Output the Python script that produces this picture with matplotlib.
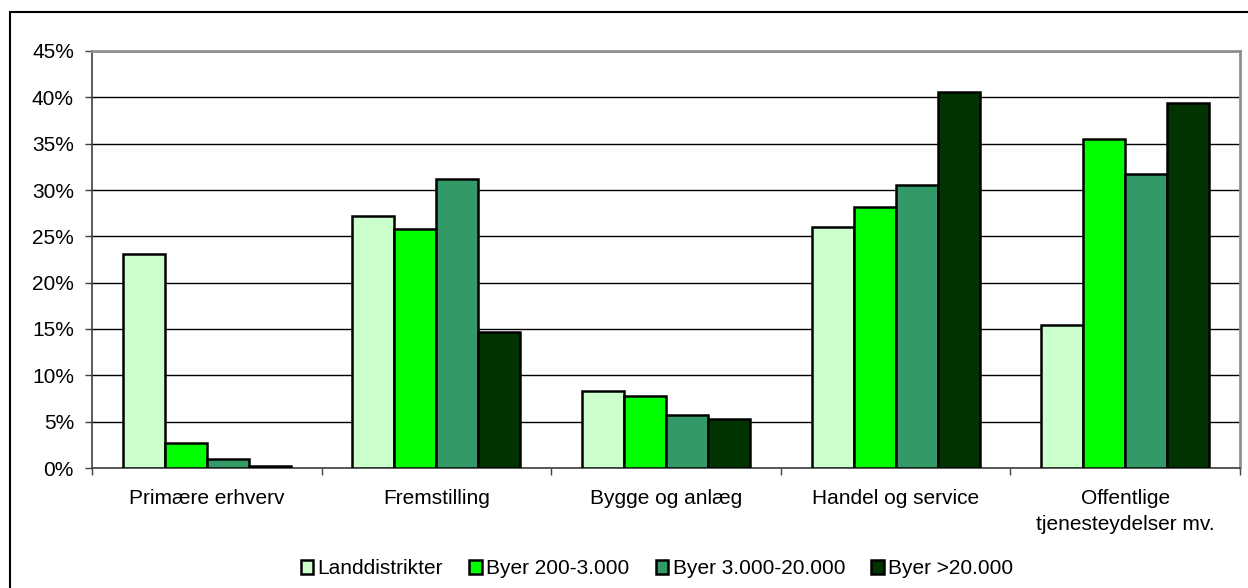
import numpy as np
import matplotlib
matplotlib.use("Agg")
import matplotlib.pyplot as plt
from matplotlib.ticker import FixedLocator, PercentFormatter

plt.rcParams['font.family'] = ['Liberation Sans', 'DejaVu Sans']

# categories and series (share of employment, %)
categories = ["Primære erhverv", "Fremstilling", "Bygge og anlæg",
              "Handel og service", "Offentlige\ntjenesteydelser mv."]
series_names = ["Landdistrikter", "Byer 200-3.000", "Byer 3.000-20.000", "Byer >20.000"]
landdistrikter = [23.1, 27.15, 8.35, 26.0, 15.4]
byer_200_3000 = [2.7, 25.8, 7.8, 28.2, 35.5]
byer_3000_20000 = [1.0, 31.2, 5.7, 30.5, 31.7]
byer_over_20000 = [0.2, 14.7, 5.25, 40.6, 39.35]
y_ticks = [0, 5, 10, 15, 20, 25, 30, 35, 40, 45]

series = [landdistrikter, byer_200_3000, byer_3000_20000, byer_over_20000]
colors = ["#CCFFCC", "#00FF00", "#339966", "#003300"]

W, H = 1248, 588
fig = plt.figure(figsize=(W / 100, H / 100), dpi=100)
ax = fig.add_axes([92 / W, 1 - 468 / H, (1240 - 92) / W, (468 - 51) / H])

# outer chart frame (right and bottom edges fall outside the image)
frame = plt.Rectangle((10 / W, -0.5), 2, 0.5 + (1 - 12 / H), transform=fig.transFigure,
                      fill=False, edgecolor='black', linewidth=1.5, zorder=0)
fig.patches.append(frame)

x = np.arange(len(categories))
w = 0.183
for j, (vals, name, col) in enumerate(zip(series, series_names, colors)):
    ax.bar(x + (j - 1.5) * w, vals, width=w, color=col, edgecolor='black',
           linewidth=1.8, label=name, zorder=3)

ax.set_xlim(-0.5, len(categories) - 0.5)
ax.set_ylim(0, 45)
ax.set_yticks(y_ticks)
ax.yaxis.set_major_formatter(PercentFormatter(decimals=0))
ax.set_xticks(x)
ax.set_xticklabels(categories, fontsize=15, linespacing=1.5)
ax.xaxis.set_minor_locator(FixedLocator(np.arange(-0.5, len(categories), 1.0)))
ax.tick_params(axis='x', which='major', length=0, pad=15)
ax.tick_params(axis='x', which='minor', length=5, width=1, color='#404040', direction='out')
ax.tick_params(axis='y', length=5, width=1, color='#404040', direction='out', pad=8, labelsize=15)

ax.yaxis.grid(True, color='black', linewidth=1, zorder=0)
ax.set_axisbelow(True)
for side in ['left', 'bottom']:
    ax.spines[side].set_color('#404040')
    ax.spines[side].set_linewidth(1.2)
for side in ['top', 'right']:
    ax.spines[side].set_color('#909090')
    ax.spines[side].set_linewidth(2)

leg = fig.legend(loc='center', bbox_to_anchor=(657 / W, 1 - 569 / H), ncol=4, frameon=False,
                 fontsize=15, handlelength=0.62, handleheight=0.62, handletextpad=0.2,
                 columnspacing=1.25, borderaxespad=0)

fig.savefig("out.png", dpi=100)
